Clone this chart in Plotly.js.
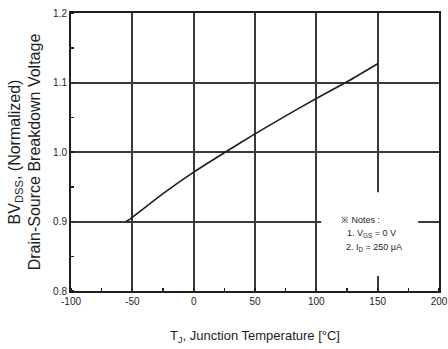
<!DOCTYPE html>
<html>
<head>
<meta charset="utf-8">
<script src="https://cdn.plot.ly/plotly-3.0.1.min.js"></script>
<style>
  html, body { margin: 0; padding: 0; background: #fff; }
  #chart { width: 448px; height: 349px; }
</style>
</head>
<body>
<div id="chart"></div>
<script>
// Normalized drain-source breakdown voltage vs. junction temperature
const tempC = [-55, -50, -25, 0, 25, 50, 75, 100, 125, 150];
const bvNorm = [0.900, 0.906, 0.940, 0.971, 0.999, 1.026, 1.052, 1.077, 1.101, 1.127];

const xTicks = [-100, -50, 0, 50, 100, 150, 200];
const xTickText = ['-100', '-50', '0', '50', '100', '150', '200'];
const yTicks = [0.8, 0.9, 1.0, 1.1, 1.2];
const yTickText = ['0.8', '0.9', '1.0', '1.1', '1.2'];

// Test-condition notes: [text, temperature anchor, BV anchor]
const noteText = ['※ Notes :', '1. V<sub>GS</sub> = 0 V', '2. I<sub>D</sub> = 250 μA'];
const noteX = [118.5, 123, 122.5];
const noteY = [0.902, 0.883, 0.862];

const ink = '#1e1e1e';
const font = 'Arial, "Liberation Sans", sans-serif';

const trace = {
  x: tempC,
  y: bvNorm,
  type: 'scatter',
  mode: 'lines',
  line: { color: ink, width: 1.6, shape: 'spline', smoothing: 0.6 },
  hoverinfo: 'skip',
  showlegend: false
};

const axisCommon = {
  ticks: '',
  showgrid: true,
  gridcolor: '#3a3a3a',
  gridwidth: 2,
  zeroline: false,
  showline: true,
  linecolor: ink,
  linewidth: 2,
  mirror: true,
  tickfont: { size: 10, color: ink },
  automargin: false
};

const layout = {
  width: 448,
  height: 349,
  margin: { l: 71, r: 9, t: 13, b: 58 },
  paper_bgcolor: '#fff',
  plot_bgcolor: '#fff',
  font: { family: font, color: ink },
  xaxis: Object.assign({}, axisCommon, {
    range: [-100, 200],
    tickvals: xTicks,
    ticktext: xTickText,
    minor: { ticks: 'inside', dtick: 25, ticklen: 3, tickcolor: ink, tickwidth: 1.5, showgrid: false },
    title: { text: 'T<sub>J</sub>, Junction Temperature [°C]', font: { size: 13, color: ink }, standoff: 25 }
  }),
  yaxis: Object.assign({}, axisCommon, {
    range: [0.8, 1.2],
    tickvals: yTicks,
    ticktext: yTickText,
    minor: { ticks: 'inside', dtick: 0.05, ticklen: 3, tickcolor: ink, tickwidth: 1.5, showgrid: false },
    title: {
      text: 'BV<sub>DSS</sub>, (Normalized)<br>Drain-Source Breakdown Voltage',
      font: { size: 16, color: ink },
      standoff: 8
    }
  }),
  shapes: [{
    type: 'rect',
    xref: 'x', yref: 'y',
    x0: 104, x1: 183, y0: 0.8216, y1: 0.942,
    fillcolor: '#fff',
    line: { width: 0 },
    layer: 'between'
  }],
  annotations: noteText.map((t, i) => ({
    xref: 'x', yref: 'y',
    x: noteX[i], y: noteY[i],
    xanchor: 'left', yanchor: 'middle',
    align: 'left',
    showarrow: false,
    text: t,
    font: { size: 9, color: ink }
  }))
};

Plotly.newPlot('chart', [trace], layout, { displayModeBar: false, staticPlot: true });
</script>
</body>
</html>
